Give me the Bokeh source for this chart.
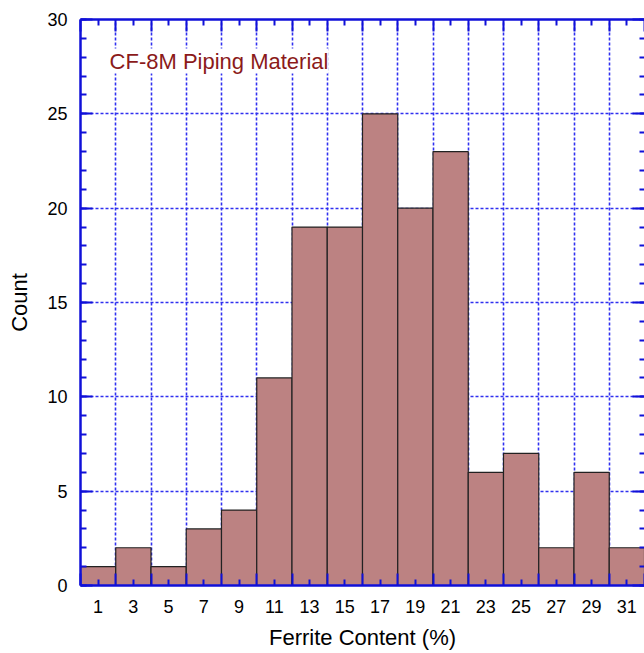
from bokeh.plotting import figure
from bokeh.models import LinearAxis, FixedTicker, Range1d, Label
from bokeh.embed import file_html
from bokeh.resources import INLINE

# Data
bin_left = [0, 2, 4, 6, 8, 10, 12, 14, 16, 18, 20, 22, 24, 26, 28, 30]
bin_right = [2, 4, 6, 8, 10, 12, 14, 16, 18, 20, 22, 24, 26, 28, 30, 32]
counts = [1, 2, 1, 3, 4, 11, 19, 19, 25, 20, 23, 6, 7, 2, 6, 2]
x_label_ticks = [1, 3, 5, 7, 9, 11, 13, 15, 17, 19, 21, 23, 25, 27, 29, 31]
x_grid_ticks = [0, 2, 4, 6, 8, 10, 12, 14, 16, 18, 20, 22, 24, 26, 28, 30, 32]
y_major_ticks = [0, 5, 10, 15, 20, 25, 30]
y_minor_ticks = list(range(0, 31))
x_title = "Ferrite Content (%)"
y_title = "Count"
note = "CF-8M Piping Material"

FONT = "Liberation Sans"
AX = "#1010d8"
GRID = "#3030f0"

p = figure(width=644, height=653, output_backend="svg", toolbar_location=None,
           x_range=Range1d(0, 32), y_range=Range1d(0, 30),
           min_border_left=80, min_border_right=0, min_border_top=19,
           min_border_bottom=68, background_fill_color="white",
           border_fill_color="white", outline_line_color=None)

p.quad(left=bin_left, right=bin_right, bottom=0, top=counts,
       fill_color="#bc8282", line_color="#222222", line_width=1.2)

def style_axis(ax):
    ax.axis_line_color = AX
    ax.axis_line_width = 2.5
    ax.major_tick_line_color = AX
    ax.minor_tick_line_color = AX
    ax.major_tick_line_width = 2
    ax.minor_tick_line_width = 2
    ax.major_tick_out = 0
    ax.minor_tick_out = 0
    ax.major_label_text_font = FONT
    ax.major_label_text_color = "black"
    ax.major_label_text_font_size = "18px"
    ax.axis_label_text_font = FONT
    ax.axis_label_text_font_style = "normal"
    ax.axis_label_text_color = "black"
    ax.axis_label_text_font_size = "22px"

def tick_only_axis(minor, length, show_line):
    ax = LinearAxis(ticker=FixedTicker(ticks=[], minor_ticks=minor))
    style_axis(ax)
    ax.major_label_standoff = 0
    ax.minor_tick_in = length
    if not show_line:
        ax.axis_line_color = None
    return ax

# bottom axis
xb = p.xaxis[0]
xb.ticker = FixedTicker(ticks=x_label_ticks, minor_ticks=x_grid_ticks)
style_axis(xb)
xb.major_tick_in = 6
xb.minor_tick_in = 12
xb.major_label_standoff = 14
xb.axis_label = x_title
xb.axis_label_standoff = 9

# top axis (ticks only)
p.add_layout(tick_only_axis(x_label_ticks, 6, True), "above")
p.add_layout(tick_only_axis(x_grid_ticks, 12, False), "above")

# left axis
yl = p.yaxis[0]
yl.ticker = FixedTicker(ticks=y_major_ticks, minor_ticks=y_minor_ticks)
style_axis(yl)
yl.major_tick_in = 12
yl.minor_tick_in = 6
yl.major_label_standoff = 13
yl.axis_label = y_title
yl.axis_label_standoff = 12

# right axis (ticks only)
p.add_layout(tick_only_axis(y_minor_ticks, 5, False), "right")
p.add_layout(tick_only_axis(y_major_ticks, 12, False), "right")

# grids
p.xgrid.ticker = FixedTicker(ticks=x_grid_ticks)
p.ygrid.ticker = FixedTicker(ticks=y_major_ticks)
for g in (p.xgrid[0], p.ygrid[0]):
    g.grid_line_color = GRID
    g.grid_line_width = 1.6
    g.grid_line_dash = "3 2"
    g.level = "underlay"

p.add_layout(Label(x=1.65, y=27.8, text=note, text_font=FONT,
                   text_font_size="22px", text_color="#8b1a1a",
                   text_baseline="middle", background_fill_color="white"))

open("out.html", "w").write(file_html(p, INLINE))
